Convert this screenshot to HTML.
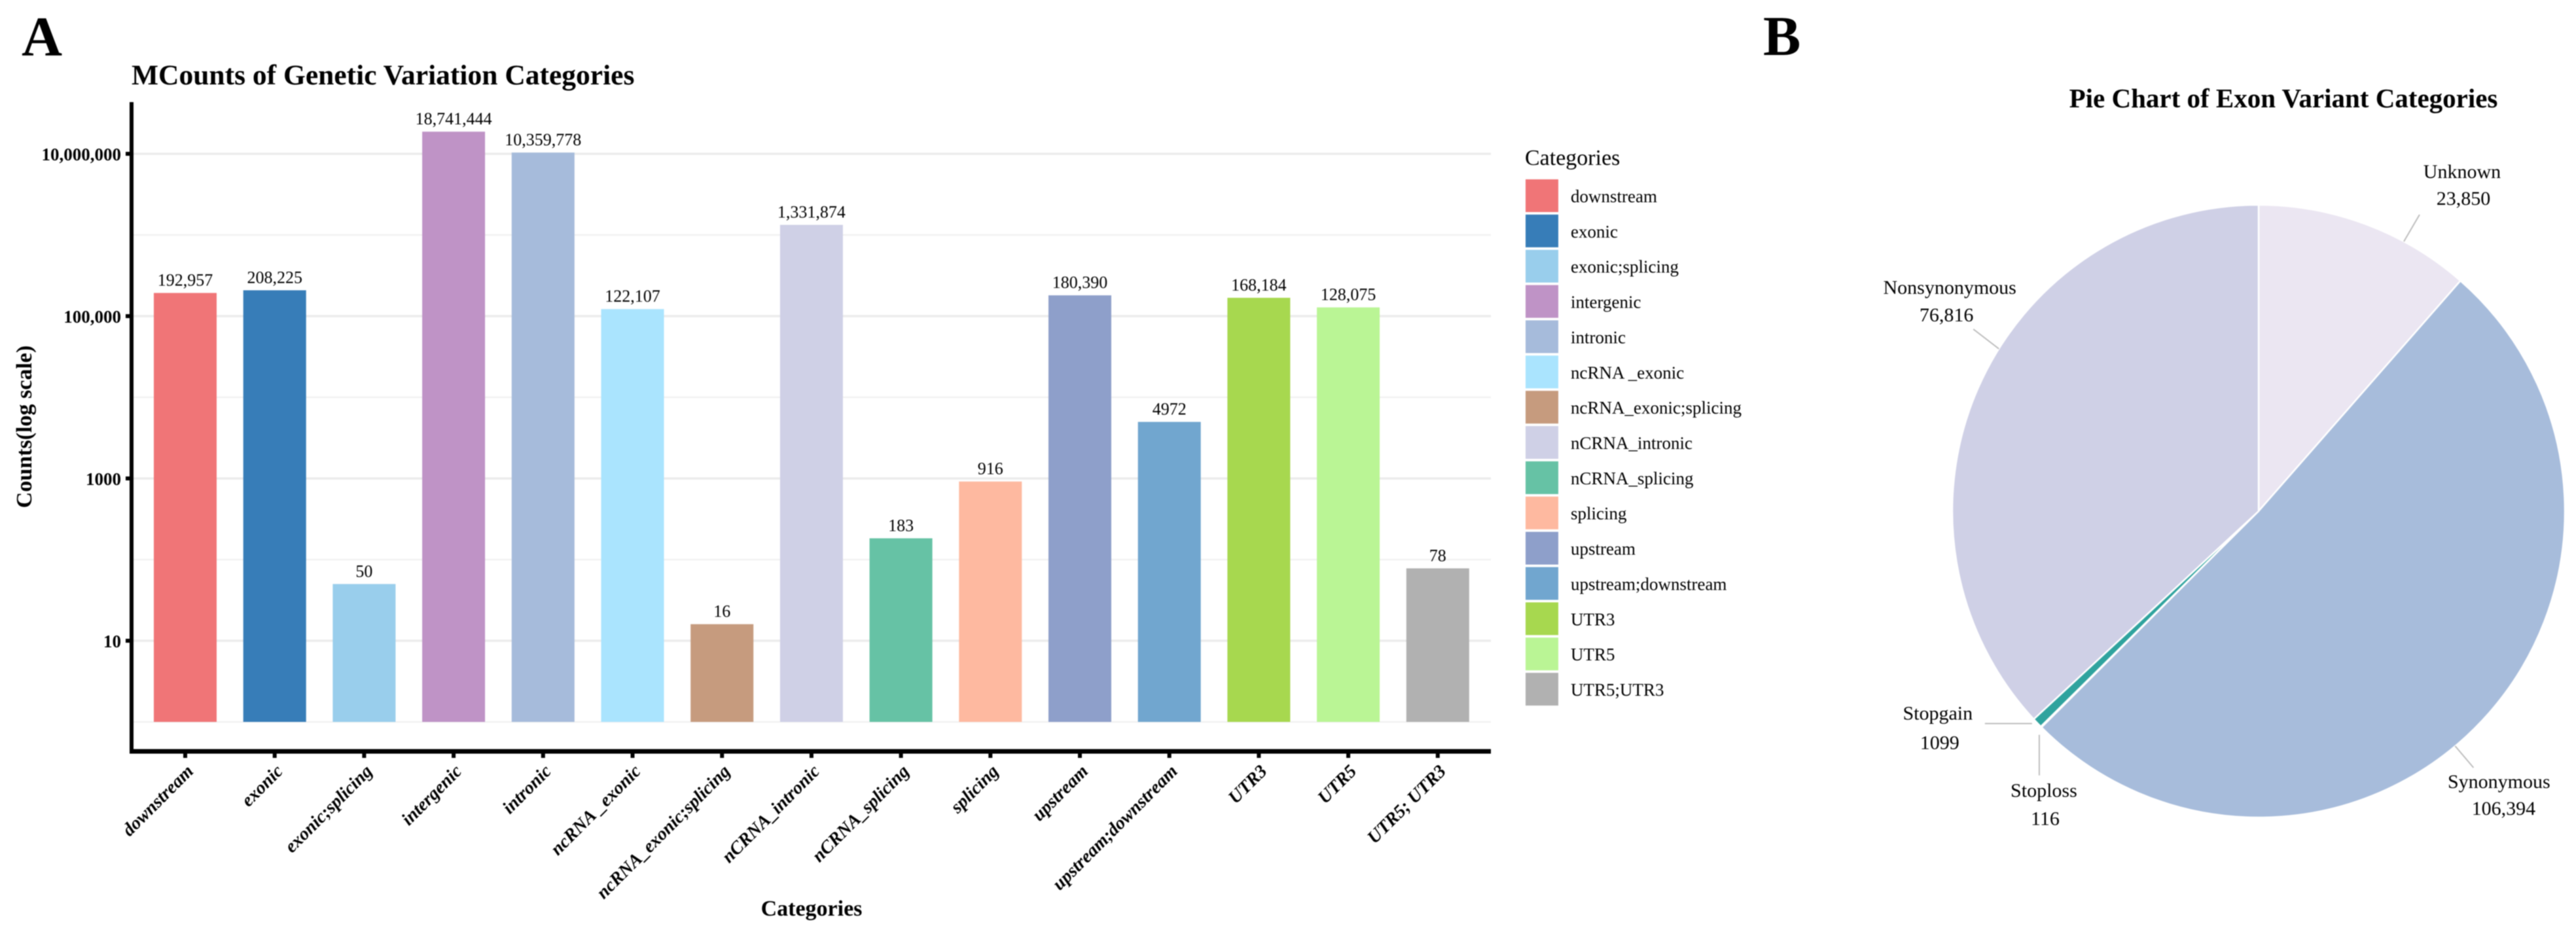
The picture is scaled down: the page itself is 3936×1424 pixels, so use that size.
<!DOCTYPE html>
<html lang="en">
<head>
<meta charset="utf-8">
<title>Genetic Variation Categories</title>
<style>
  html, body { margin: 0; padding: 0; background: #fff; }
  body { width: 3936px; height: 1424px; overflow: hidden; }
  svg { display: block; font-family: "Liberation Serif", "Times New Roman", serif; filter: blur(0.7px); }
  text { fill: #000; }
</style>
</head>
<body>
<svg id="figure" xmlns="http://www.w3.org/2000/svg" width="3936" height="1424" viewBox="0 0 3936 1424">
  <rect x="0" y="0" width="3936" height="1424" fill="#ffffff"/>
  <text x="33" y="85" font-size="86" font-weight="bold">A</text>
  <text x="2694" y="84" font-size="86" font-weight="bold">B</text>
  <text x="201" y="129" font-size="43.5" font-weight="bold">MCounts of Genetic Variation Categories</text>
  <text transform="translate(48 652) rotate(-90)" text-anchor="middle" font-size="34" font-weight="bold">Counts(log scale)</text>
  <text x="1240" y="1399" text-anchor="middle" font-size="34" font-weight="bold">Categories</text>
  <text x="2330" y="252" font-size="34">Categories</text>
  <text x="3489" y="164" text-anchor="middle" font-size="41" font-weight="bold">Pie Chart of Exon Variant Categories</text>
  <g id="grid"></g>
  <g id="bars"></g>
  <g id="axes"></g>
  <g id="legend"></g>
  <g id="pie"></g>
</svg>
<script>
// ---- bar chart data ----
const categories = ["downstream", "exonic", "exonic;splicing", "intergenic", "intronic", "ncRNA _exonic", "ncRNA_exonic;splicing", "nCRNA_intronic", "nCRNA_splicing", "splicing", "upstream", "upstream;downstream", "UTR3", "UTR5", "UTR5;UTR3"];
const xTickLabels = ["downstream", "exonic", "exonic;splicing", "intergenic", "intronic", "ncRNA _exonic", "ncRNA_exonic;splicing", "nCRNA_intronic", "nCRNA_splicing", "splicing", "upstream", "upstream;downstream", "UTR3", "UTR5", "UTR5; UTR3"];
const counts = [192957, 208225, 50, 18741444, 10359778, 122107, 16, 1331874, 183, 916, 180390, 4972, 168184, 128075, 78];
const barColors = ["#F07577", "#377DB8", "#99CEEC", "#BF93C6", "#A6BBDB", "#AAE4FE", "#C69B7E", "#CFD0E6", "#66C2A5", "#FEB9A0", "#8E9FCA", "#71A6CF", "#A7D84F", "#BAF595", "#B1B1B1"];
const yTickValues = [10, 1000, 100000, 10000000];
const yTickLabels = ["10", "1000", "100,000", "10,000,000"];
const yMinorGridValues = [1, 100, 10000, 1000000];

// ---- pie chart data ----
const pieCategories = ["Unknown", "Synonymous", "Stoploss", "Stopgain", "Nonsynonymous"];
const pieValues = [23850, 106394, 116, 1099, 76816];
const pieColors = ["#EBE6F2", "#A7BCDB", "#7FC7C0", "#2FA39E", "#CFD0E6"];

// ---- layout (separate from data) ----
const plot = { left: 198, right: 2278, top: 156, bottom: 1148, baseY: 1103, decade: 124, firstX: 283, stepX: 136.7, barW: 96 };
const pieGeom = { cx: 3451, cy: 781, r: 468 };
const pieLabelLayout = [
  { offset: 7.7,  start: [0, 0],   end: [24, -41],  name: [89, -97],  value: [91, -56] },
  { offset: 6.9,  start: [0, 0],   end: [28, 33],   name: [67, 64],   value: [74, 105] },
  { offset: 0.5,  start: [0, 15],  end: [0, 77],    name: [7, 110],   value: [9, 153] },
  { offset: 0,    start: [-8, 1],  end: [-80, 1],   name: [-152, -5], value: [-149, 40] },
  { offset: 8.4,  start: [0, 0],   end: [-39, -30], name: [-75, -84], value: [-80, -42] }
];

const SVG_NS = "http://www.w3.org/2000/svg";
function make(tag, attrs, parent, txt) {
  const el = document.createElementNS(SVG_NS, tag);
  for (const k in attrs) el.setAttribute(k, attrs[k]);
  if (txt !== undefined) el.textContent = txt;
  parent.appendChild(el);
  return el;
}
const slug = s => s.toLowerCase().replace(/[^a-z0-9]+/g, "-").replace(/^-|-$/g, "");
const xScale = i => plot.firstX + i * plot.stepX;
const yScale = v => plot.baseY - plot.decade * Math.log10(v);
const fmtCount = v => v >= 10000 ? Math.round(v).toLocaleString("en-US") : String(v);

const gridG = document.getElementById("grid");
const barsG = document.getElementById("bars");
const axesG = document.getElementById("axes");
const legendG = document.getElementById("legend");
const pieG = document.getElementById("pie");

// gridlines
yMinorGridValues.forEach(v => {
  const line = make("line", { x1: plot.left + 6, x2: plot.right, y1: yScale(v), y2: yScale(v), stroke: "#f2f2f2", "stroke-width": 2.5 }, gridG);
  
  
});
yTickValues.forEach(v => {
  const line = make("line", { x1: plot.left + 6, x2: plot.right, y1: yScale(v), y2: yScale(v), stroke: "#ececec", "stroke-width": 3.5 }, gridG);
  
  
});

// bars and value labels
counts.forEach((v, i) => {
  const x = xScale(i);
  const bar = make("rect", { x: x - plot.barW / 2, y: yScale(v), width: plot.barW, height: plot.baseY - yScale(v), fill: barColors[i] }, barsG);
  
  
  const label = make("text", { x: x, y: yScale(v) - 11, "text-anchor": "middle", "font-size": 26 }, barsG, fmtCount(v));
  
  
});

// axes
const yAxis = make("line", { x1: plot.left + 3, x2: plot.left + 3, y1: plot.top, y2: plot.bottom + 3, stroke: "#000", "stroke-width": 6 }, axesG);


const xAxis = make("line", { x1: plot.left, x2: plot.right, y1: plot.bottom, y2: plot.bottom, stroke: "#000", "stroke-width": 7 }, axesG);



yTickValues.forEach((v, i) => {
  const tick = make("line", { x1: 192, x2: plot.left, y1: yScale(v), y2: yScale(v), stroke: "#000", "stroke-width": 6 }, axesG);
  
  
  const label = make("text", { x: 185, y: yScale(v) + 10, "text-anchor": "end", "font-size": 27, "font-weight": "bold" }, axesG, yTickLabels[i]);
  
  
});

xTickLabels.forEach((name, i) => {
  const x = xScale(i);
  const tick = make("line", { x1: x, x2: x, y1: plot.bottom, y2: plot.bottom + 10, stroke: "#000", "stroke-width": 6 }, axesG);
  
  
  const label = make("text", { transform: "translate(" + (x + 14) + " 1180) rotate(-45)", "text-anchor": "end", "font-size": 28, "font-weight": "bold", "font-style": "italic" }, axesG, name);
  
  
});

// legend
categories.forEach((name, i) => {
  const y = 274 + i * 53.86;
  const swatch = make("rect", { x: 2331, y: y, width: 50, height: 50, fill: barColors[i] }, legendG);
  
  
  const label = make("text", { x: 2400, y: y + 35, "font-size": 27 }, legendG, name);
  
  
});

// pie chart
const pieTotal = pieValues.reduce((a, b) => a + b, 0);
const polar = (deg, r) => {
  const a = deg * Math.PI / 180;
  return [pieGeom.cx + r * Math.sin(a), pieGeom.cy - r * Math.cos(a)];
};
let startAngle = 0;
pieValues.forEach((v, i) => {
  const sweep = v / pieTotal * 360;
  const end = startAngle + sweep;
  const p0 = polar(startAngle, pieGeom.r);
  const p1 = polar(end, pieGeom.r);
  const d = "M" + pieGeom.cx + " " + pieGeom.cy + " L" + p0[0] + " " + p0[1] + " A" + pieGeom.r + " " + pieGeom.r + " 0 " + (sweep > 180 ? 1 : 0) + " 1 " + p1[0] + " " + p1[1] + " Z";
  const slice = make("path", { d: d, fill: pieColors[i], stroke: "#fff", "stroke-width": 2.5, "stroke-linejoin": "round" }, pieG);
  
  
  startAngle = end;
});
startAngle = 0;
pieValues.forEach((v, i) => {
  const sweep = v / pieTotal * 360;
  const mid = startAngle + sweep / 2;
  const lay = pieLabelLayout[i];
  const anchor = polar(mid + lay.offset, pieGeom.r);
  const leader = make("line", { x1: anchor[0] + lay.start[0], y1: anchor[1] + lay.start[1], x2: anchor[0] + lay.end[0], y2: anchor[1] + lay.end[1], stroke: "#bdbdbd", "stroke-width": 2 }, pieG);
  
  
  const nameText = make("text", { x: anchor[0] + lay.name[0], y: anchor[1] + lay.name[1], "text-anchor": "middle", "font-size": 30 }, pieG, pieCategories[i]);
  
  
  const valueText = make("text", { x: anchor[0] + lay.value[0], y: anchor[1] + lay.value[1], "text-anchor": "middle", "font-size": 30 }, pieG, fmtCount(v));
  
  
  startAngle += sweep;
});
</script>
</body>
</html>
